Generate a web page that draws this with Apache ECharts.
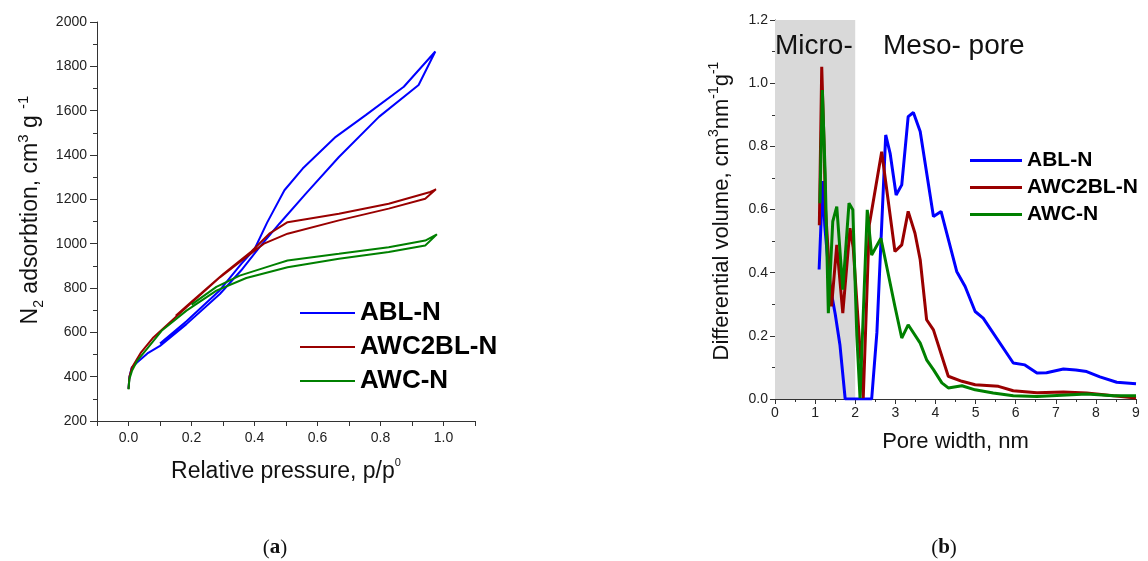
<!DOCTYPE html>
<html><head><meta charset="utf-8">
<script src="https://cdn.jsdelivr.net/npm/echarts@6/dist/echarts.min.js"></script>
<style>html,body{margin:0;padding:0;background:#fff;}#c{width:1148px;height:561px;}</style>
</head><body><div id="c"></div>
<script>
// ---- data (a): N2 isotherms, [p/p0, volume], adsorption then desorption
var isoABL = [[0.0,345],[0.003,400],[0.01,440],[0.027,464],[0.06,505],[0.1,539],[0.184,637],[0.29,773],[0.358,880],[0.416,984],[0.479,1090],[0.563,1226],[0.668,1391],[0.795,1572],[0.921,1716],[0.974,1867],
  [0.874,1708],[0.753,1580],[0.658,1482],[0.553,1339],[0.495,1241],[0.44,1095],[0.4,975],[0.358,909],[0.29,790],[0.184,650],[0.1,550]];
var isoAWC2BL = [[0.0,345],[0.003,400],[0.011,441],[0.04,510],[0.079,577],[0.184,713],[0.29,848],[0.374,940],[0.43,1000],[0.505,1045],[0.668,1105],[0.826,1158],[0.942,1203],[0.976,1245],
  [0.958,1233],[0.826,1180],[0.668,1135],[0.505,1097],[0.447,1045],[0.39,965],[0.3,862],[0.2,738],[0.15,675]];
var isoAWC = [[0.0,343],[0.003,390],[0.011,426],[0.027,471],[0.058,524],[0.105,607],[0.184,698],[0.279,788],[0.374,845],[0.505,894],[0.668,932],[0.826,962],[0.942,992],[0.979,1042],
  [0.942,1014],[0.826,984],[0.668,954],[0.505,924],[0.458,903],[0.353,856],[0.279,805],[0.2,725]];
// ---- data (b): pore size distribution, [width nm, dV]
var psdABL = [[1.1,0.41],[1.19,0.69],[1.24,0.55],[1.37,0.36],[1.5,0.27],[1.62,0.17],[1.75,0.0],[2.41,0.0],[2.54,0.21],[2.66,0.55],[2.76,0.836],[2.87,0.778],[3.02,0.646],[3.16,0.678],[3.32,0.894],[3.45,0.907],[3.62,0.847],[3.95,0.578],[4.14,0.594],[4.53,0.404],[4.74,0.356],[4.99,0.277],[5.19,0.256],[5.94,0.114],[6.23,0.108],[6.53,0.082],[6.77,0.083],[7.19,0.095],[7.5,0.092],[7.77,0.087],[8.1,0.07],[8.52,0.053],[9.0,0.048]];
var psdAWC2BL = [[1.105,0.55],[1.165,1.052],[1.22,0.82],[1.26,0.6],[1.41,0.293],[1.54,0.488],[1.69,0.272],[1.87,0.541],[1.95,0.48],[2.2,0.003],[2.35,0.551],[2.66,0.783],[2.99,0.467],[3.16,0.488],[3.32,0.594],[3.49,0.525],[3.62,0.441],[3.78,0.251],[3.95,0.219],[4.32,0.072],[4.66,0.056],[4.99,0.045],[5.57,0.04],[5.94,0.026],[6.53,0.02],[7.19,0.022],[7.77,0.019],[8.44,0.01],[9.0,0.003]];
var psdAWC = [[1.12,0.62],[1.18,0.978],[1.25,0.716],[1.33,0.272],[1.44,0.562],[1.54,0.609],[1.69,0.346],[1.845,0.62],[1.94,0.599],[2.04,0.2],[2.12,0.003],[2.3,0.599],[2.41,0.456],[2.64,0.509],[2.99,0.293],[3.16,0.193],[3.32,0.235],[3.62,0.177],[3.78,0.124],[3.95,0.093],[4.16,0.051],[4.32,0.035],[4.66,0.042],[4.99,0.029],[5.44,0.019],[5.94,0.01],[6.53,0.008],[7.77,0.016],[8.44,0.01],[9.0,0.01]];
var names = ['ABL-N','AWC2BL-N','AWC-N'];
var colors = ['#0000ff','#990000','#008000'];

var F = '"Liberation Sans", Arial, sans-serif';
var chart = echarts.init(document.getElementById('c'), null, {renderer:'canvas'});
var axLine = {onZero:false, lineStyle:{color:'#333', width:1}};
function mk(name, data, xi, w, ci){
  return {name:name, type:'line', xAxisIndex:xi, yAxisIndex:xi, data:data, symbol:'none', z:3,
    lineStyle:{color:colors[ci], width:w}, itemStyle:{color:colors[ci]}, animation:false};
}
var option = {
  animation:false,
  textStyle:{fontFamily:F},
  grid:[
    {left:97, top:22, width:378, height:399},
    {left:775, top:20, width:361, height:379}
  ],
  xAxis:[
    {gridIndex:0, type:'value', min:-0.1, max:1.1, interval:0.1,
     axisLine:axLine, axisTick:{length:5, lineStyle:{color:'#333'}}, splitLine:{show:false},
     axisLabel:{margin:10, fontSize:14, color:'#222', fontFamily:F,
       formatter:function(v){var k=Math.round(v*10); if(k<0||k>10||k%2) return ''; return (k/10).toFixed(1);}},
     name:'{t|Relative pressure, p/p}{s|0}', nameLocation:'middle', nameGap:36,
     nameTextStyle:{rich:{t:{fontSize:23, fontFamily:F, color:'#111', lineHeight:26, verticalAlign:'bottom'}, s:{fontSize:11, fontFamily:F, color:'#111', lineHeight:26, verticalAlign:'top'}}}},
    {gridIndex:1, type:'value', min:0, max:9, interval:1,
     axisLine:axLine, axisTick:{length:5, lineStyle:{color:'#333'}}, minorTick:{show:true, splitNumber:2, length:3, lineStyle:{color:'#333'}}, splitLine:{show:false}, minorSplitLine:{show:false},
     axisLabel:{margin:7, fontSize:14, color:'#222', fontFamily:F},
     name:'Pore width, nm', nameLocation:'middle', nameGap:32,
     nameTextStyle:{fontSize:22, fontFamily:F, color:'#111'}}
  ],
  yAxis:[
    {gridIndex:0, type:'value', min:200, max:2000, interval:200,
     axisLine:{show:true, onZero:false, lineStyle:{color:'#333'}}, axisTick:{length:7, lineStyle:{color:'#333'}},
     minorTick:{show:true, splitNumber:2, length:4, lineStyle:{color:'#333'}}, splitLine:{show:false}, minorSplitLine:{show:false},
     axisLabel:{margin:10, fontSize:14, color:'#222', fontFamily:F, formatter:function(v){return String(v);}}},
    {gridIndex:1, type:'value', min:0, max:1.2, interval:0.2,
     axisLine:{show:true, onZero:false, lineStyle:{color:'#333'}}, axisTick:{length:5, lineStyle:{color:'#333'}},
     minorTick:{show:true, splitNumber:2, length:3, lineStyle:{color:'#333'}}, splitLine:{show:false}, minorSplitLine:{show:false},
     axisLabel:{margin:7, fontSize:14, color:'#222', fontFamily:F, formatter:function(v){return v.toFixed(1);}}}
  ],
  legend:[
    {data:names, orient:'vertical', left:300, top:300, padding:0, icon:'rect', itemWidth:55, itemHeight:2, itemGap:8,
     textStyle:{fontSize:26, fontWeight:'bold', fontFamily:F, color:'#000'}, selectedMode:false},
    {data:names, orient:'vertical', left:970, top:150, padding:0, icon:'rect', itemWidth:52, itemHeight:3, itemGap:6,
     textStyle:{fontSize:21, fontWeight:'bold', fontFamily:F, color:'#000'}, selectedMode:false}
  ],
  series:[
    {name:'shade', type:'line', xAxisIndex:1, yAxisIndex:1, data:[], z:1, silent:true,
     markArea:{silent:true, itemStyle:{color:'#d9d9d9'}, data:[[{coord:[0,0]},{coord:[2,1.2]}]]}},
    mk(names[0], isoABL, 0, 2, 0),
    mk(names[1], isoAWC2BL, 0, 2, 1),
    mk(names[2], isoAWC, 0, 2, 2),
    mk(names[0], psdABL, 1, 3, 0),
    mk(names[1], psdAWC2BL, 1, 3, 1),
    mk(names[2], psdAWC, 1, 3, 2)
  ],
  graphic:[
    {type:'text', z:100, x:31, y:210, rotation:Math.PI/2, style:{
      text:'{t|N}{s|2}{t| adsorbtion, cm}{p|3}{t| g }{p|-1}', textAlign:'center', textVerticalAlign:'middle',
      rich:{t:{fontSize:23, fontFamily:F, fill:'#111', lineHeight:30, verticalAlign:'middle'},
            s:{fontSize:14, fontFamily:F, fill:'#111', lineHeight:30, verticalAlign:'bottom'},
            p:{fontSize:15, fontFamily:F, fill:'#111', lineHeight:30, verticalAlign:'top'}}}},
    {type:'text', z:100, x:722, y:211, rotation:Math.PI/2, style:{
      text:'{t|Differential volume, cm}{p|3}{t|nm}{p|-1}{t|g}{p|-1}', textAlign:'center', textVerticalAlign:'middle',
      rich:{t:{fontSize:22, fontFamily:F, fill:'#111', lineHeight:30, verticalAlign:'middle'},
            p:{fontSize:14, fontFamily:F, fill:'#111', lineHeight:30, verticalAlign:'top'}}}},
    {type:'text', z:100, x:775, y:46, style:{text:'Micro-', font:'28px '+F, fill:'#111', textVerticalAlign:'middle'}},
    {type:'text', z:100, x:883, y:46, style:{text:'Meso- pore', font:'28px '+F, fill:'#111', textVerticalAlign:'middle'}},
    {type:'text', z:100, x:275, y:548, style:{text:'{p|(}{b|a}{p|)}', textAlign:'center', textVerticalAlign:'middle',
      rich:{p:{fontSize:21, fontFamily:'"Liberation Serif", serif', fill:'#111'}, b:{fontSize:21, fontWeight:'bold', fontFamily:'"Liberation Serif", serif', fill:'#111'}}}},
    {type:'text', z:100, x:944, y:548, style:{text:'{p|(}{b|b}{p|)}', textAlign:'center', textVerticalAlign:'middle',
      rich:{p:{fontSize:21, fontFamily:'"Liberation Serif", serif', fill:'#111'}, b:{fontSize:21, fontWeight:'bold', fontFamily:'"Liberation Serif", serif', fill:'#111'}}}}
  ]
};
chart.setOption(option);
</script></body></html>
